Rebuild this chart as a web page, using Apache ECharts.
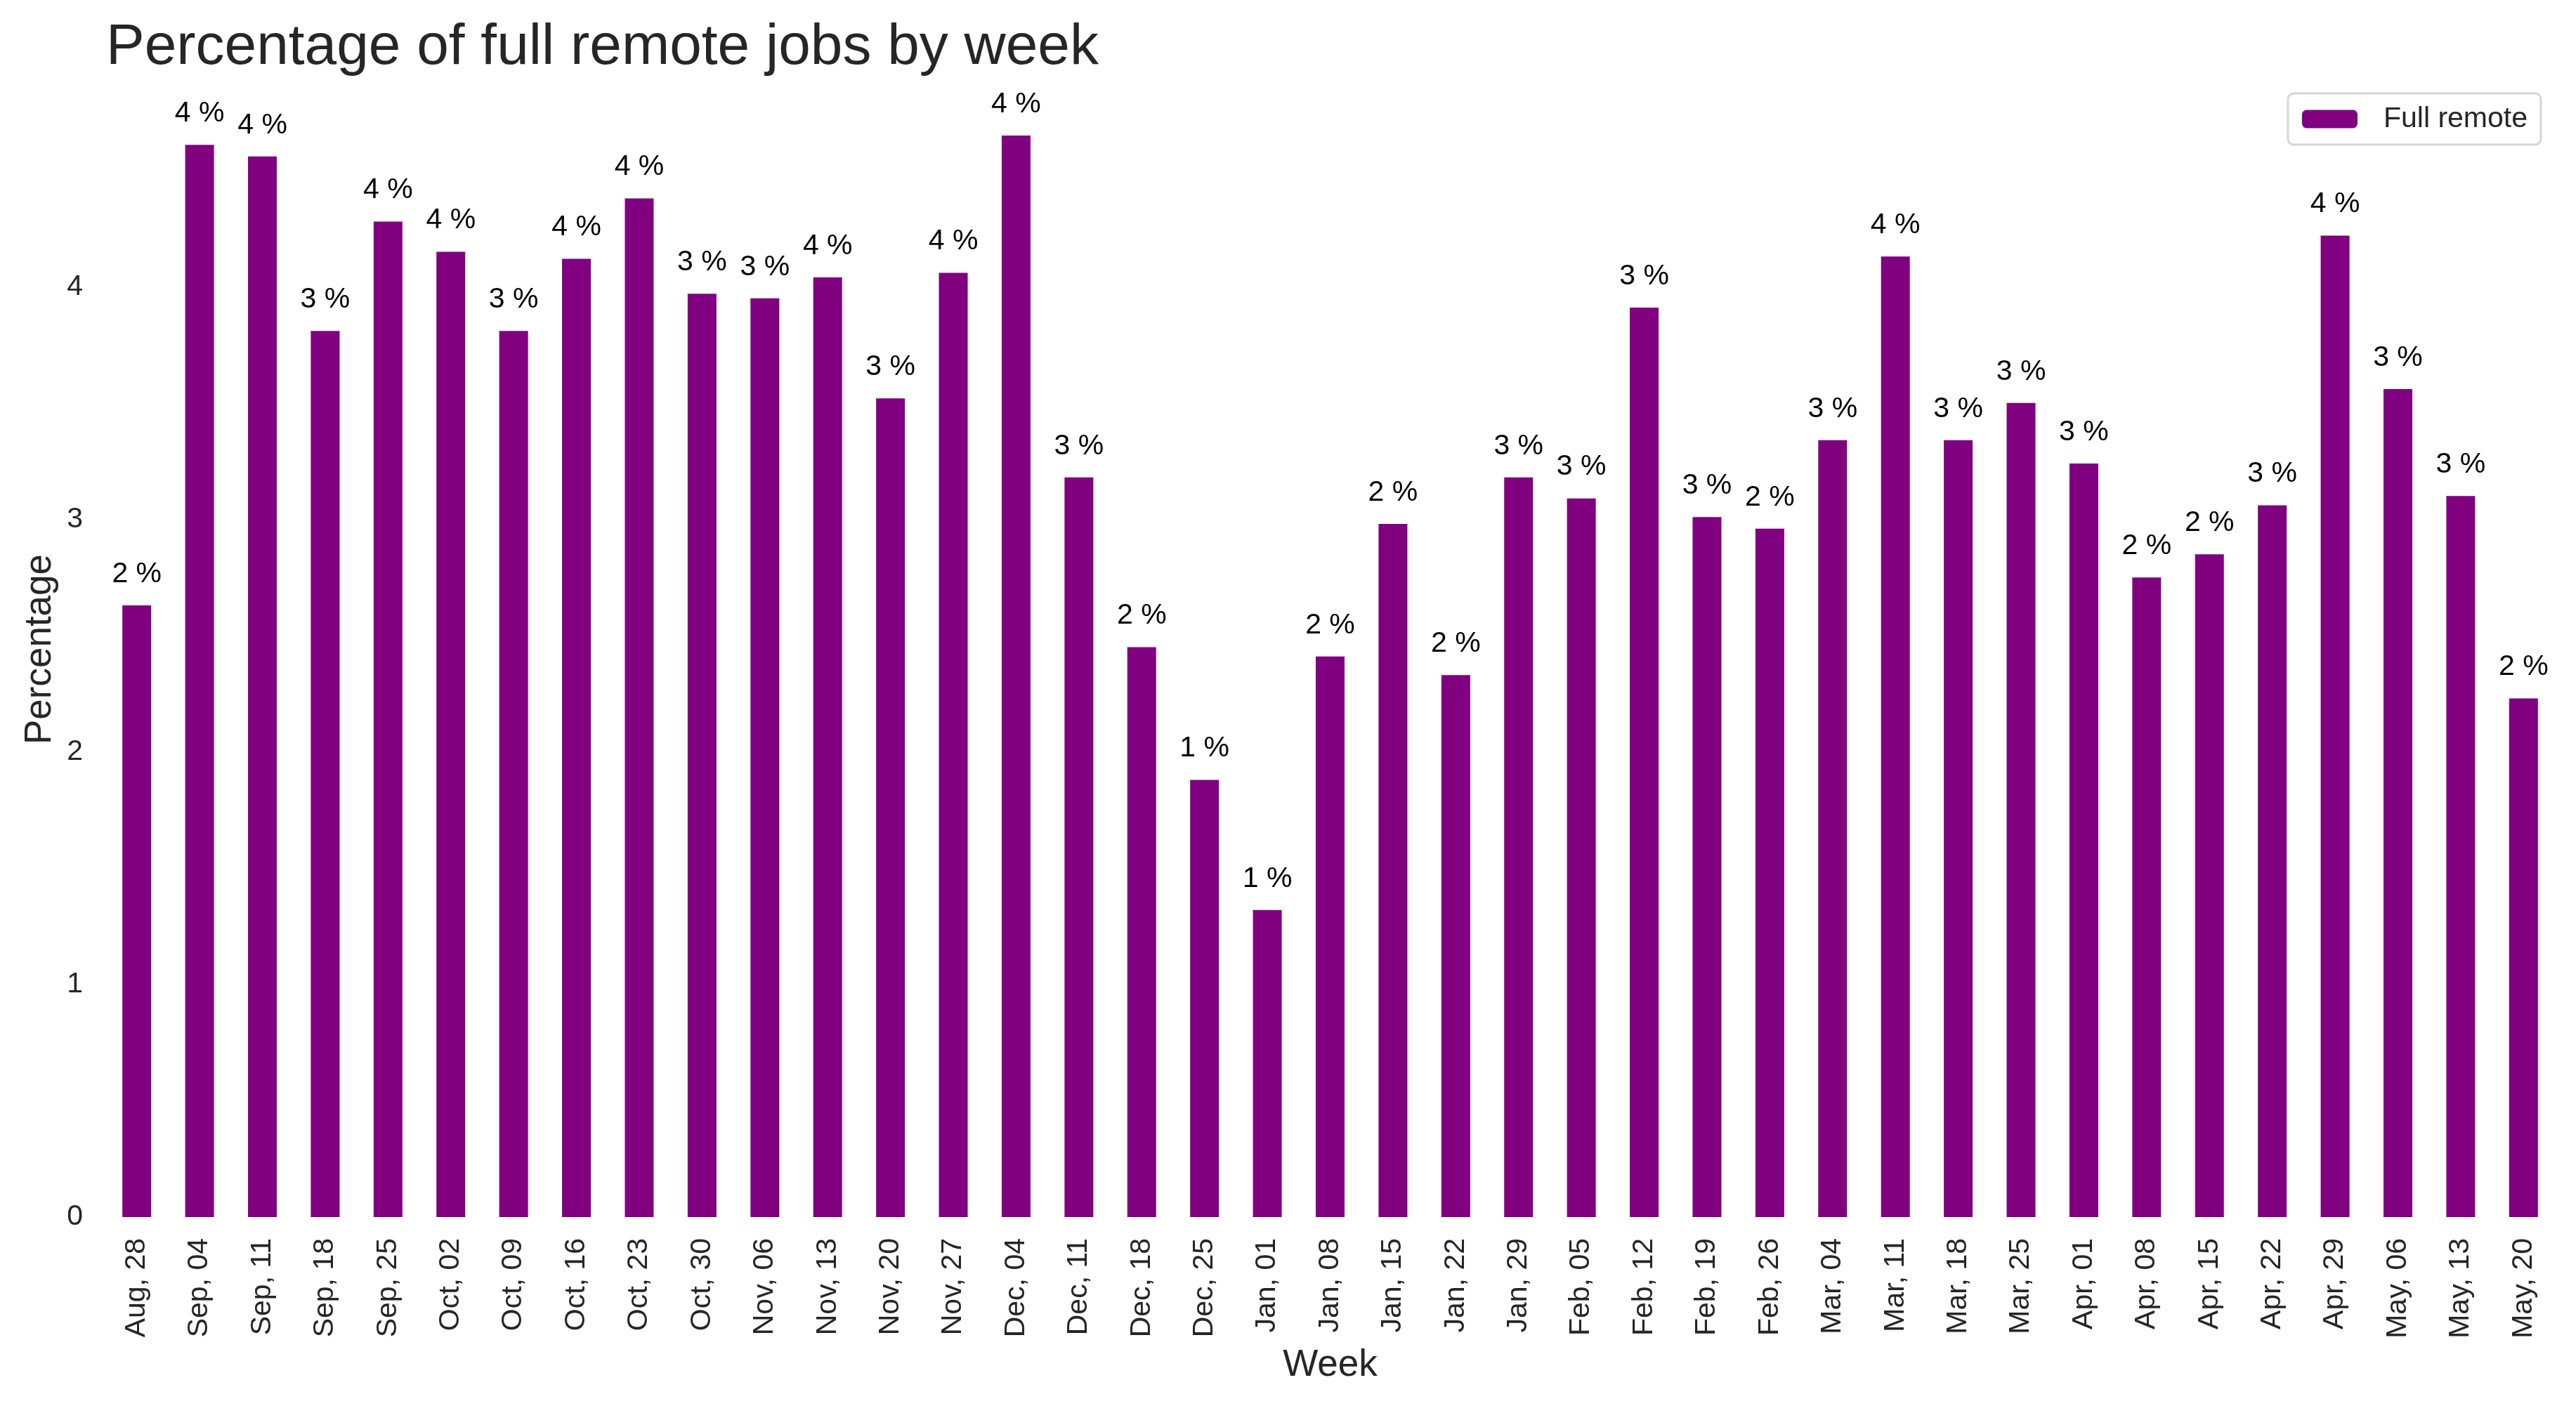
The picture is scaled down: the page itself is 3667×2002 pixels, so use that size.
<!DOCTYPE html>
<html>
<head>
<meta charset="utf-8">
<script src="https://cdn.jsdelivr.net/npm/echarts@6/dist/echarts.min.js"></script>
<style>
html,body{margin:0;padding:0;background:#fff;}
#chart{width:3667px;height:2002px;}
</style>
</head>
<body>
<div id="chart"></div>
<script>
const weeks = ["Aug, 28","Sep, 04","Sep, 11","Sep, 18","Sep, 25","Oct, 02","Oct, 09","Oct, 16","Oct, 23","Oct, 30","Nov, 06","Nov, 13","Nov, 20","Nov, 27","Dec, 04","Dec, 11","Dec, 18","Dec, 25","Jan, 01","Jan, 08","Jan, 15","Jan, 22","Jan, 29","Feb, 05","Feb, 12","Feb, 19","Feb, 26","Mar, 04","Mar, 11","Mar, 18","Mar, 25","Apr, 01","Apr, 08","Apr, 15","Apr, 22","Apr, 29","May, 06","May, 13","May, 20"];
const fullRemote = [2.63,4.61,4.56,3.81,4.28,4.15,3.81,4.12,4.38,3.97,3.95,4.04,3.52,4.06,4.65,3.18,2.45,1.88,1.32,2.41,2.98,2.33,3.18,3.09,3.91,3.01,2.96,3.34,4.13,3.34,3.50,3.24,2.75,2.85,3.06,4.22,3.56,3.10,2.23];
const yTicks = [0,1,2,3,4];
const seriesName = "Full remote";
const titleText = "Percentage of full remote jobs by week";

const FONT = "Liberation Sans, Arial, sans-serif";
const chart = echarts.init(document.getElementById('chart'), null, {renderer:'canvas'});
chart.setOption({
  animation:false,
  backgroundColor:'#ffffff',
  textStyle:{fontFamily:FONT},
  title:{
    text:titleText, left:146, top:22,
    textStyle:{fontFamily:FONT, fontSize:82, fontWeight:'normal', color:'#262626'}
  },
  legend:{
    data:[seriesName], right:50, top:133,
    itemWidth:79, itemHeight:26,
    padding:[16,19,16,20],
    borderColor:'#d6d6d6', borderWidth:3, borderRadius:8,
    textStyle:{fontFamily:FONT, fontSize:41, color:'#262626', padding:[0,0,0,32]}
  },
  grid:{left:150, right:30, top:116, bottom:269, containLabel:false},
  xAxis:{
    type:'category', data:weeks, boundaryGap:true,
    axisLine:{show:false}, axisTick:{show:false},
    axisLabel:{rotate:90, fontSize:41, color:'#262626', margin:30, fontFamily:FONT, interval:0},
    name:'Week', nameLocation:'middle', nameGap:185,
    nameTextStyle:{fontSize:53, color:'#262626', fontFamily:FONT}
  },
  yAxis:{
    type:'value', min:yTicks[0], max:4.8825, interval:1,
    axisLine:{show:false}, axisTick:{show:false}, splitLine:{show:false},
    axisLabel:{fontSize:41, color:'#262626', margin:32, fontFamily:FONT, showMaxLabel:false},
    name:'Percentage', nameLocation:'middle', nameGap:66, nameRotate:90,
    nameTextStyle:{fontSize:53, color:'#262626', fontFamily:FONT}
  },
  series:[{
    name:seriesName, type:'bar', data:fullRemote, barWidth:41,
    itemStyle:{color:'#800080'},
    label:{show:true, position:'top', distance:24, fontSize:41, color:'#000000', fontFamily:FONT,
      formatter:p=>Math.floor(p.value)+' %'}
  }]
});
</script>
</body>
</html>
